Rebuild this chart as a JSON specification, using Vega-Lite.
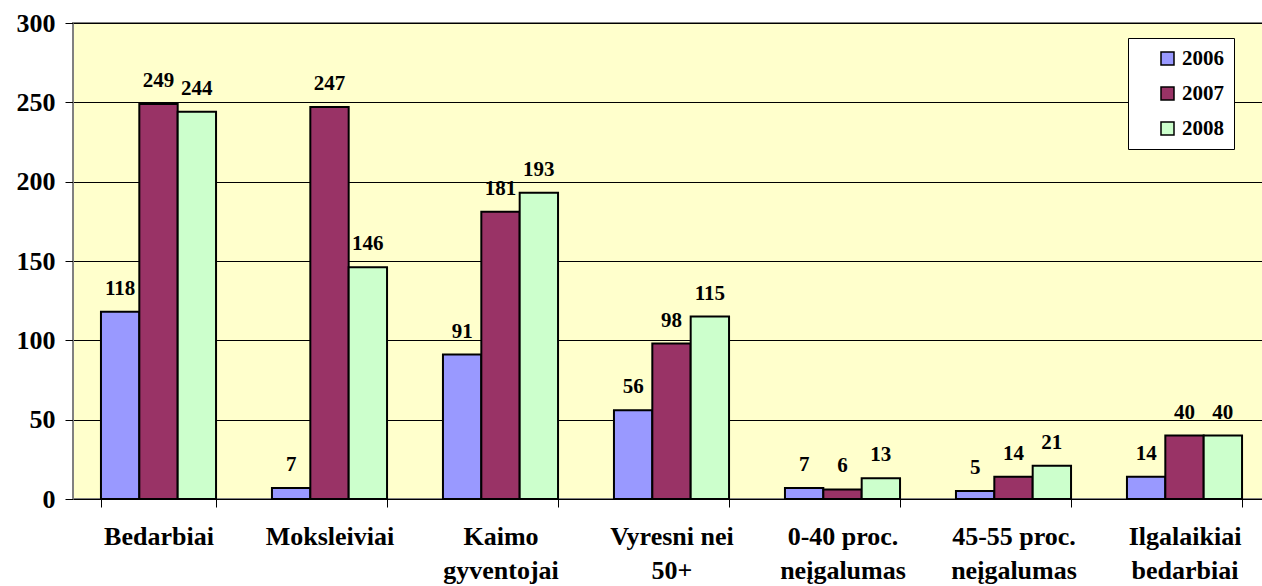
{
  "$schema": "https://vega.github.io/schema/vega-lite/v6.json",
  "width": 1197,
  "height": 476,
  "autosize": {"type": "none"},
  "padding": {"left": 73, "top": 23, "right": 0, "bottom": 87},
  "background": "white",
  "config": {
    "view": {"fill": "#FFFFCC", "stroke": "#808080", "strokeWidth": 2},
    "font": "Liberation Serif"
  },
  "data": {
    "values": [
      {"cat": "Bedarbiai", "year": "2006", "value": 118},
      {"cat": "Bedarbiai", "year": "2007", "value": 249},
      {"cat": "Bedarbiai", "year": "2008", "value": 244},
      {"cat": "Moksleiviai", "year": "2006", "value": 7},
      {"cat": "Moksleiviai", "year": "2007", "value": 247},
      {"cat": "Moksleiviai", "year": "2008", "value": 146},
      {"cat": "Kaimo|gyventojai", "year": "2006", "value": 91},
      {"cat": "Kaimo|gyventojai", "year": "2007", "value": 181},
      {"cat": "Kaimo|gyventojai", "year": "2008", "value": 193},
      {"cat": "Vyresni nei|50+", "year": "2006", "value": 56},
      {"cat": "Vyresni nei|50+", "year": "2007", "value": 98},
      {"cat": "Vyresni nei|50+", "year": "2008", "value": 115},
      {"cat": "0-40 proc.|neįgalumas", "year": "2006", "value": 7},
      {"cat": "0-40 proc.|neįgalumas", "year": "2007", "value": 6},
      {"cat": "0-40 proc.|neįgalumas", "year": "2008", "value": 13},
      {"cat": "45-55 proc.|neįgalumas", "year": "2006", "value": 5},
      {"cat": "45-55 proc.|neįgalumas", "year": "2007", "value": 14},
      {"cat": "45-55 proc.|neįgalumas", "year": "2008", "value": 21},
      {"cat": "Ilgalaikiai|bedarbiai", "year": "2006", "value": 14},
      {"cat": "Ilgalaikiai|bedarbiai", "year": "2007", "value": 40},
      {"cat": "Ilgalaikiai|bedarbiai", "year": "2008", "value": 40}
    ]
  },
  "encoding": {
    "x": {
      "field": "cat",
      "type": "nominal",
      "sort": null,
      "title": null,
      "scale": {"paddingInner": 0.327, "paddingOuter": 0.1635},
      "axis": {
        "labelExpr": "isValid(datum.value) ? split(datum.value, '|') : ''",
        "labelAngle": 0,
        "labelFontSize": 26,
        "labelFontWeight": "bold",
        "labelColor": "black",
        "labelBaseline": "top",
        "labelLineHeight": 34,
        "labelPadding": 16,
        "tickBand": "extent",
        "tickSize": 8,
        "tickColor": "black",
        "domainColor": "black",
        "grid": false
      }
    },
    "xOffset": {"field": "year", "type": "nominal", "sort": null},
    "y": {
      "field": "value",
      "type": "quantitative",
      "title": null,
      "scale": {"domain": [0, 300]},
      "axis": {
        "values": [0, 50, 100, 150, 200, 250, 300],
        "labelFontSize": 26,
        "labelFontWeight": "bold",
        "labelColor": "black",
        "labelPadding": 10,
        "tickSize": 8,
        "tickColor": "black",
        "domainColor": "#808080",
        "gridColor": "black",
        "gridWidth": 1
      }
    }
  },
  "layer": [
    {
      "mark": {"type": "bar", "stroke": "black", "strokeWidth": 2},
      "encoding": {
        "color": {
          "field": "year",
          "type": "nominal",
          "scale": {"domain": ["2006", "2007", "2008"], "range": ["#9999FF", "#993366", "#CCFFCC"]},
          "legend": {
            "orient": "none",
            "legendX": 1055,
            "legendY": 15,
            "title": null,
            "fillColor": "white",
            "strokeColor": "black",
            "padding": 10,
            "symbolType": "square",
            "symbolSize": 169,
            "symbolStrokeColor": "black",
            "symbolStrokeWidth": 1.5,
            "symbolOffset": 19,
            "labelOffset": 4,
            "labelFontSize": 21,
            "labelFontWeight": "bold",
            "labelColor": "black",
            "rowPadding": 13
          }
        }
      }
    },
    {
      "mark": {"type": "text", "fontWeight": "bold", "fontSize": 21, "baseline": "alphabetic", "dy": -17, "color": "black"},
      "encoding": {"text": {"field": "value", "type": "quantitative"}}
    }
  ]
}
